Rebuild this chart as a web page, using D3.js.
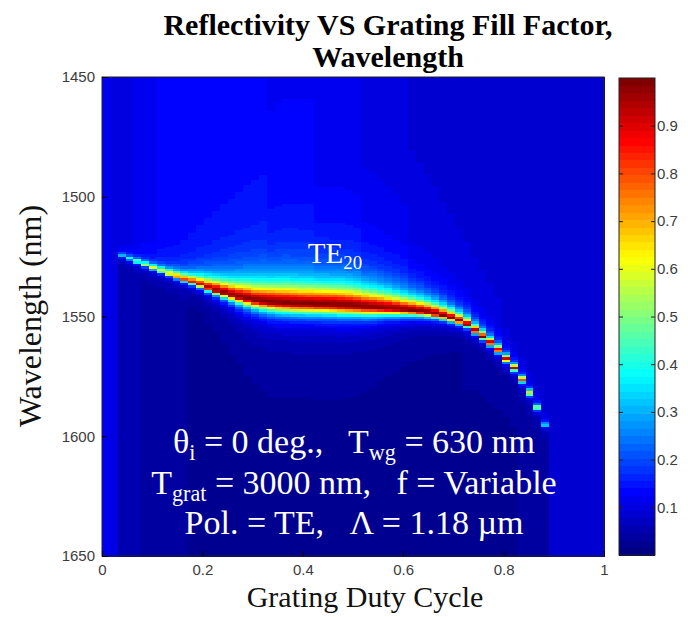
<!DOCTYPE html>
<html>
<head>
<meta charset="utf-8">
<script src="https://cdn.jsdelivr.net/npm/d3@7"></script>
<style>
  body { margin: 0; background: #fff; }
  svg { display: block; }
  .serif { font-family: "Liberation Serif", "Times New Roman", serif; }
</style>
</head>
<body>
<div id="chart"></div>
<script>
const W = 688, H = 617;

// sampling grid of the simulation: 64 fill-factor columns, 1 nm wavelength rows
const nCols = 64;
const dutyCols = d3.range(nCols).map(k => k / nCols);
const wlRows = d3.range(1450, 1650, 1);

// TE20 resonance, one entry per fill-factor column (null = no resonance)
const resonanceWl = [
  null, null, 1524.5, 1525.8, 1527.0, 1528.3, 1529.6, 1530.9,
  1532.1, 1533.3, 1534.5, 1535.6, 1536.7, 1538.0, 1539.1, 1540.1,
  1541.0, 1541.8, 1542.5, 1543.2, 1543.6, 1543.9, 1544.2, 1544.4,
  1544.6, 1544.7, 1544.8, 1544.9, 1545.0, 1545.1, 1545.3, 1545.5,
  1545.7, 1546.0, 1546.2, 1546.4, 1546.6, 1546.9, 1547.2, 1547.5,
  1547.8, 1548.2, 1548.8, 1549.6, 1550.6, 1551.8, 1553.3, 1556.0,
  1558.5, 1561.0, 1564.0, 1567.8, 1571.5, 1576.3, 1581.8, 1588.0,
  1595.2, null, null, null, null, null, null, null
];
const peakR = [
  0, 0, 0.30, 0.40, 0.50, 0.55, 0.60, 0.65,
  0.70, 0.75, 0.80, 0.85, 0.90, 0.95, 0.99, 0.99,
  0.99, 0.99, 0.99, 0.99, 0.99, 0.99, 0.99, 0.99,
  0.99, 0.99, 0.99, 0.99, 0.99, 0.99, 0.99, 0.99,
  0.99, 0.99, 0.99, 0.99, 0.99, 0.99, 0.99, 0.99,
  0.99, 0.99, 0.99, 0.99, 0.99, 0.99, 0.99, 0.99,
  0.99, 0.99, 0.99, 0.97, 0.93, 0.85, 0.72, 0.55,
  0.35, 0, 0, 0, 0, 0, 0, 0
];
// half widths (nm) on the short- and long-wavelength side of the peak
const hwhmShort = [
  1, 1, 1.0, 1.0, 1.0, 1.0, 1.1, 1.3,
  1.5, 1.8, 2.1, 2.5, 2.9, 3.3, 3.7, 4.1,
  4.5, 4.9, 5.3, 5.6, 5.9, 6.1, 6.3, 6.5,
  6.5, 6.5, 6.5, 6.5, 6.5, 6.5, 6.5, 6.4,
  6.2, 6.0, 5.8, 5.5, 5.2, 4.9, 4.6, 4.3,
  4.0, 3.7, 3.4, 3.1, 2.8, 2.5, 2.2, 2.0,
  1.8, 1.6, 1.4, 1.25, 1.1, 1.0, 1.0, 1.0,
  1.0, 1, 1, 1, 1, 1, 1, 1
];
const hwhmLong = [
  1, 1, 0.8, 0.8, 0.8, 0.8, 0.8, 0.8,
  0.8, 0.8, 0.8, 0.9, 1.0, 1.2, 1.4, 1.7,
  2.0, 2.3, 2.6, 2.8, 3.0, 3.2, 3.2, 3.2,
  3.2, 3.2, 3.2, 3.2, 3.2, 3.2, 3.2, 3.1,
  3.0, 2.9, 2.7, 2.5, 2.3, 2.1, 1.9, 1.7,
  1.6, 1.5, 1.4, 1.3, 1.2, 1.1, 1.0, 0.9,
  0.9, 0.9, 0.9, 0.9, 0.9, 0.9, 0.9, 0.9,
  0.9, 1, 1, 1, 1, 1, 1, 1
];
// off-resonance reflectivity above (shorter wl) and below (longer wl) the curve
const bgShort = [
  0.12, 0.10, 0.10, 0.10, 0.11, 0.12, 0.12, 0.13,
  0.13, 0.13, 0.13, 0.13, 0.13, 0.13, 0.13, 0.13,
  0.13, 0.13, 0.13, 0.13, 0.13, 0.12, 0.12, 0.12,
  0.12, 0.12, 0.12, 0.11, 0.11, 0.11, 0.11, 0.11,
  0.11, 0.10, 0.10, 0.10, 0.10, 0.10, 0.10, 0.09,
  0.09, 0.09, 0.09, 0.09, 0.09, 0.09, 0.09, 0.09,
  0.09, 0.09, 0.09, 0.085, 0.085, 0.085, 0.085, 0.085,
  0.085, 0.085, 0.085, 0.085, 0.085, 0.085, 0.085, 0.085
];
const bgLong = [
  0.12, 0.07, 0.05, 0.05, 0.05, 0.04, 0.04, 0.04,
  0.04, 0.04, 0.04, 0.025, 0.025, 0.025, 0.025, 0.025,
  0.025, 0.025, 0.025, 0.025, 0.025, 0.025, 0.025, 0.025,
  0.025, 0.025, 0.025, 0.025, 0.025, 0.025, 0.025, 0.025,
  0.025, 0.025, 0.025, 0.025, 0.025, 0.025, 0.025, 0.025,
  0.025, 0.025, 0.025, 0.025, 0.025, 0.025, 0.03, 0.03,
  0.03, 0.03, 0.03, 0.03, 0.03, 0.04, 0.04, 0.04,
  0.04, 0.085, 0.085, 0.085, 0.085, 0.085, 0.085, 0.085
];

const xTicks = [0, 0.2, 0.4, 0.6, 0.8, 1];
const yTicks = [1450, 1500, 1550, 1600, 1650];
const cbTicks = [0.1, 0.2, 0.3, 0.4, 0.5, 0.6, 0.7, 0.8, 0.9];

function reflect(k, wl) {
  const c = resonanceWl[k];
  if (c == null) return bgShort[k];
  const d = wl + 0.5 - c;
  const g = d < 0 ? hwhmShort[k] : hwhmLong[k];
  const bg = d < 0 ? bgShort[k] : bgLong[k];
  return bg + (peakR[k] - bg) / (1 + (d / g) * (d / g));
}

// MATLAB-style jet colormap, 64 levels
function jetColor(t) {
  const f = v => Math.round(255 * Math.max(0, Math.min(1, v)));
  return `rgb(${f(1.5 - Math.abs(4 * t - 3))},${f(1.5 - Math.abs(4 * t - 2))},${f(1.5 - Math.abs(4 * t - 1))})`;
}
const jet64 = d3.range(64).map(i => jetColor(i / 63));
const colorOf = v => jet64[Math.max(0, Math.min(63, Math.floor(v * 64)))];

const plot = { left: 102, right: 604, top: 77, bottom: 556 };
const x = d3.scaleLinear().domain([0, 1]).range([plot.left, plot.right]);
const y = d3.scaleLinear().domain([1450, 1650]).range([plot.top, plot.bottom]);

const svg = d3.select("#chart").append("svg").attr("width", W).attr("height", H);

const cells = [];
dutyCols.forEach((d, k) => wlRows.forEach(wl => cells.push({ k, d, wl, v: reflect(k, wl) })));

svg.append("g")
  .attr("shape-rendering", "crispEdges")
  .selectAll("rect")
  .data(cells)
  .join("rect")
  .attr("x", c => x(c.d))
  .attr("y", c => y(c.wl))
  .attr("width", x(1 / nCols) - x(0) + 0.5)
  .attr("height", y(1451) - y(1450) + 0.5)
  .attr("fill", c => colorOf(c.v));

svg.append("rect")
  .attr("x", plot.left).attr("y", plot.top)
  .attr("width", plot.right - plot.left).attr("height", plot.bottom - plot.top)
  .attr("fill", "none").attr("stroke", "#222").attr("stroke-width", 1);

function styleAxis(a, tickColor) {
  a.attr("font-size", 15).attr("font-family", "'Liberation Sans', Arial, sans-serif");
  a.select(".domain").remove();
  a.selectAll(".tick line").attr("stroke", tickColor);
  a.selectAll(".tick text").attr("fill", "#3c3c3c");
}

const xAxis = svg.append("g")
  .attr("transform", `translate(0,${plot.bottom})`)
  .call(d3.axisBottom(x).tickValues(xTicks).tickSize(-5).tickPadding(8).tickFormat(d3.format("")));
const yAxis = svg.append("g")
  .attr("transform", `translate(${plot.left},0)`)
  .call(d3.axisLeft(y).tickValues(yTicks).tickSize(-5).tickPadding(7).tickFormat(d3.format("d")));
styleAxis(xAxis, "#000");
styleAxis(yAxis, "#000");

// colorbar
const cb = { left: 619, right: 655 };
const cbY = d3.scaleLinear().domain([0, 1]).range([plot.bottom - 1, plot.top + 1]);
svg.append("g")
  .attr("shape-rendering", "crispEdges")
  .selectAll("rect")
  .data(jet64)
  .join("rect")
  .attr("x", cb.left)
  .attr("width", cb.right - cb.left)
  .attr("y", (c, i) => cbY((i + 1) / 64))
  .attr("height", cbY(0) - cbY(1 / 64) + 0.5)
  .attr("fill", c => c);
svg.append("rect")
  .attr("x", cb.left).attr("y", cbY(1))
  .attr("width", cb.right - cb.left).attr("height", cbY(0) - cbY(1))
  .attr("fill", "none").attr("stroke", "#222");
const cbR = svg.append("g")
  .attr("transform", `translate(${cb.right},0)`)
  .call(d3.axisRight(cbY).tickValues(cbTicks).tickSize(-4).tickPadding(2));
const cbL = svg.append("g")
  .attr("transform", `translate(${cb.left},0)`)
  .call(d3.axisLeft(cbY).tickValues(cbTicks).tickSize(-4).tickFormat(""));
styleAxis(cbR, "#222");
styleAxis(cbL, "#222");

// rich text helper: parts = [text, isSubscript]
function richText(g, cx, by, size, parts) {
  const t = g.append("text")
    .attr("class", "serif")
    .attr("x", cx).attr("y", by)
    .attr("text-anchor", "middle")
    .attr("fill", "#fff")
    .attr("font-size", size)
    .style("white-space", "pre");
  let shifted = false;
  parts.forEach(([s, sub]) => {
    const ts = t.append("tspan").text(s);
    if (sub && !shifted) { ts.attr("font-size", size * 0.65).attr("dy", size * 0.22); shifted = true; }
    else if (sub) ts.attr("font-size", size * 0.65);
    else if (shifted) { ts.attr("dy", -size * 0.22); shifted = false; }
  });
  return t;
}

const ann = svg.append("g");
richText(ann, 335, 263, 29, [["TE", false], ["20", true]]);
richText(ann, 354, 453, 34, [["θ", false], ["i", true], [" = 0 deg.,   T", false], ["wg", true], [" = 630 nm", false]]);
richText(ann, 354, 494, 34, [["T", false], ["grat", true], [" = 3000 nm,   f = Variable", false]]);
richText(ann, 354, 534, 34, [["Pol. = TE,   Λ = 1.18 µm", false]]);

// titles
const titleLines = ["Reflectivity VS Grating Fill Factor,", "Wavelength"];
svg.append("g")
  .selectAll("text")
  .data(titleLines)
  .join("text")
  .attr("class", "serif")
  .attr("x", 388)
  .attr("y", (s, i) => 35 + i * 32)
  .attr("text-anchor", "middle")
  .attr("font-weight", "bold")
  .attr("font-size", 30)
  .attr("fill", "#000")
  .text(s => s);

svg.append("text")
  .attr("class", "serif")
  .attr("x", 365).attr("y", 607)
  .attr("text-anchor", "middle")
  .attr("font-size", 30)
  .attr("fill", "#111")
  .text("Grating Duty Cycle");

svg.append("text")
  .attr("class", "serif")
  .attr("transform", "translate(41,316) rotate(-90)")
  .attr("text-anchor", "middle")
  .attr("font-size", 32)
  .attr("fill", "#111")
  .text("Wavelength (nm)");
</script>
</body>
</html>
